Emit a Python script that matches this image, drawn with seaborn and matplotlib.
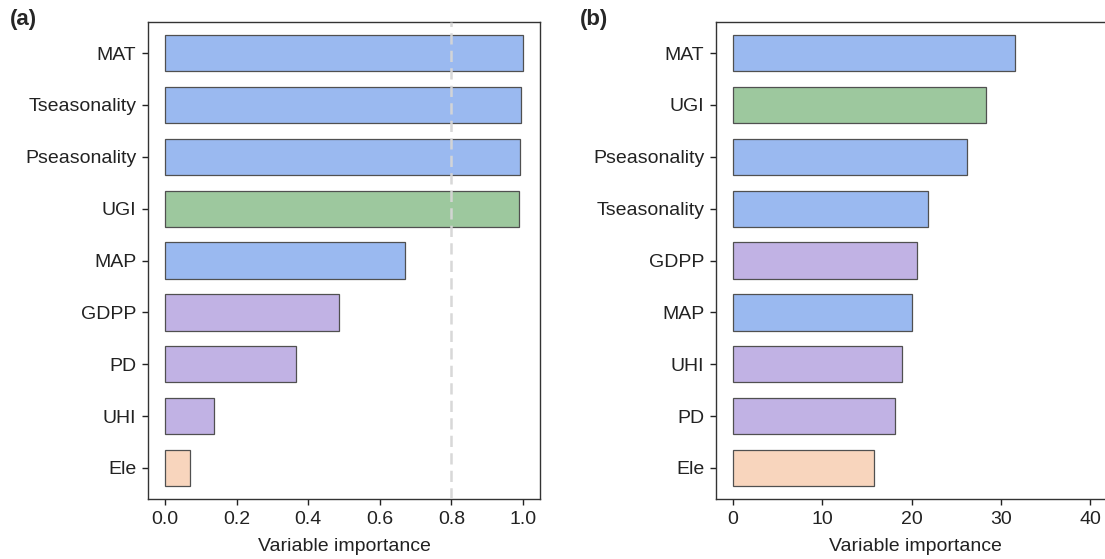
import matplotlib
matplotlib.use("Agg")
import matplotlib.pyplot as plt
import seaborn as sns
import pandas as pd

# Data
vars_a = ["MAT", "Tseasonality", "Pseasonality", "UGI", "MAP", "GDPP", "PD", "UHI", "Ele"]
vals_a = [1.0, 0.995, 0.992, 0.988, 0.670, 0.486, 0.366, 0.137, 0.070]
groups_a = ["clim", "clim", "clim", "veg", "clim", "soc", "soc", "soc", "topo"]

vars_b = ["MAT", "UGI", "Pseasonality", "Tseasonality", "GDPP", "MAP", "UHI", "PD", "Ele"]
vals_b = [31.6, 28.3, 26.2, 21.8, 20.6, 20.0, 18.9, 18.1, 15.8]
groups_b = ["clim", "veg", "clim", "clim", "soc", "clim", "soc", "soc", "topo"]

group_colors = {"clim": "#9ab9f0", "veg": "#9dc89e", "soc": "#c1b2e4", "topo": "#f8d5bd"}

sns.set_theme(style="ticks")
plt.rcParams["font.family"] = ["Liberation Sans", "DejaVu Sans"]

fig = plt.figure(figsize=(11.05, 5.59), dpi=100)
ax_a = fig.add_axes([0.1339, 0.1073, 0.3548, 0.8533])
ax_b = fig.add_axes([0.648, 0.1073, 0.3611, 0.8533])

def draw(ax, vars_, vals, groups):
    df = pd.DataFrame({"var": vars_, "val": vals, "grp": groups})
    sns.barplot(data=df, x="val", y="var", hue="grp", palette=group_colors,
                dodge=False, width=0.7, edgecolor="#505050", linewidth=0.9,
                saturation=1, legend=False, ax=ax, orient="h")
    ax.set_ylim(8.6, -0.6)
    ax.set_ylabel("")
    ax.set_xlabel("Variable importance", fontsize=14, color="#222222", labelpad=7)
    ax.tick_params(axis="both", labelsize=14, colors="#222222", length=4.5, width=1,
                   direction="out", pad=4)
    for s in ax.spines.values():
        s.set_color("#333333")
        s.set_linewidth(1.0)

draw(ax_a, vars_a, vals_a, groups_a)
ax_a.axvline(0.8, color="#d6d6d6", linestyle=(0, (4.5, 2.5)), linewidth=1.8,
             alpha=0.95, zorder=5)
ax_a.set_xlim(-0.0475, 1.0475)
ax_a.set_xticks([0.0, 0.2, 0.4, 0.6, 0.8, 1.0])
ax_a.set_xticklabels(["0.0", "0.2", "0.4", "0.6", "0.8", "1.0"])

draw(ax_b, vars_b, vals_b, groups_b)
ax_b.set_xlim(-1.905, 42.8)
ax_b.set_xticks([0, 10, 20, 30, 40])

fig.text(0.009, 0.965, "(a)", fontsize=16, fontweight="bold", ha="left", va="center")
fig.text(0.525, 0.965, "(b)", fontsize=16, fontweight="bold", ha="left", va="center")

fig.savefig("out.png", dpi=100)
